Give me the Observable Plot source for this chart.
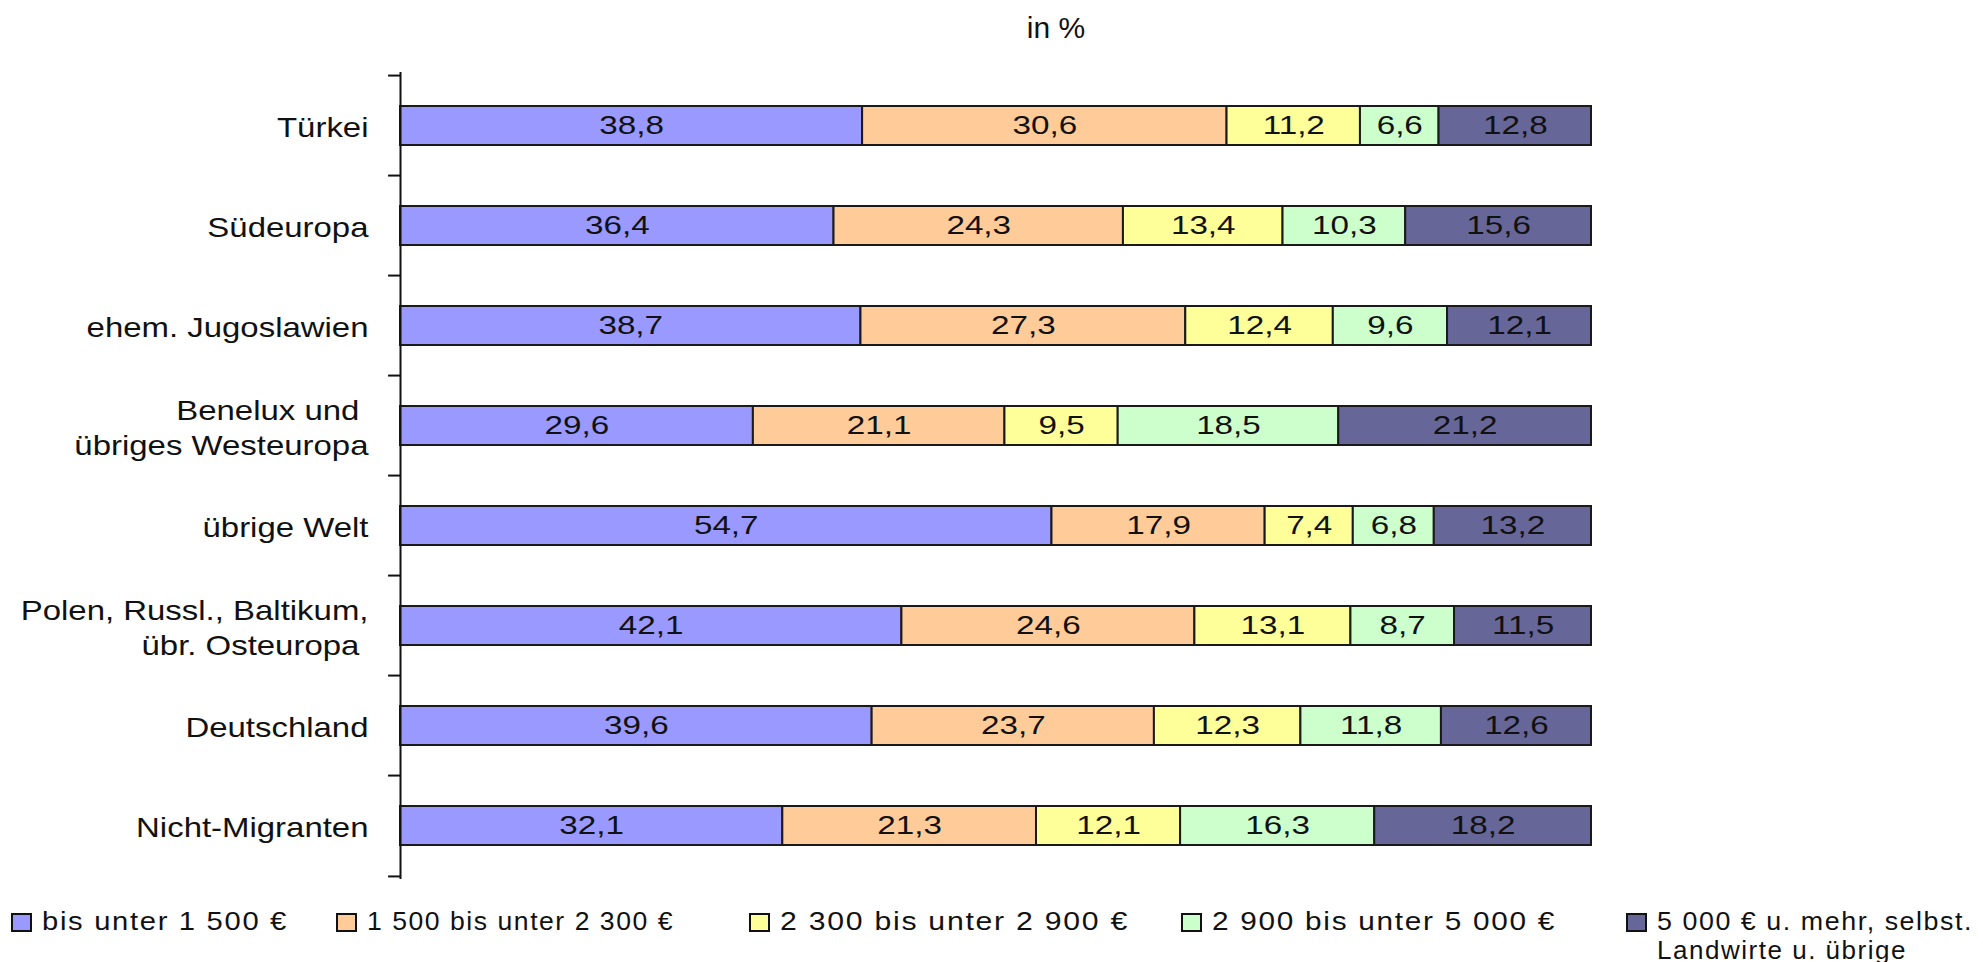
<!DOCTYPE html>
<html>
<head>
<meta charset="utf-8">
<script src="https://cdn.jsdelivr.net/npm/d3@7"></script>
<script src="https://cdn.jsdelivr.net/npm/@observablehq/plot@0.6"></script>
<style>
  html, body { margin: 0; padding: 0; background: #fff; }
  body { width: 1983px; height: 962px; position: relative; overflow: hidden; font-family: "Liberation Sans", Arial, sans-serif; color: #111; }
  #title { position: absolute; left: 0; width: 2112px; top: 11px; text-align: center; font-size: 30px; }
  #chart { position: absolute; left: 0; top: 50px; }
  #legend { position: absolute; left: 0; top: 0; }
  .item { position: absolute; font-size: 26px; letter-spacing: 1.5px; line-height: 30px; white-space: nowrap; transform-origin: left center; }
  .sw { position: absolute; width: 17px; height: 15px; border: 2px solid #111; }
</style>
</head>
<body>
<div id="title">in %</div>
<div id="chart"></div>
<div id="legend"></div>
<script>
const categories = [
  "Türkei",
  "Südeuropa",
  "ehem. Jugoslawien",
  "Benelux und\u00a0\nübriges Westeuropa",
  "übrige Welt",
  "Polen, Russl., Baltikum,\nübr. Osteuropa\u00a0",
  "Deutschland",
  "Nicht-Migranten"
];
const series = [
  "bis unter 1 500 €",
  "1 500 bis unter 2 300 €",
  "2 300 bis unter 2 900 €",
  "2 900 bis unter 5 000 €",
  "5 000 € u. mehr, selbst.\nLandwirte u. übrige"
];
const colors = ["#9999FF", "#FFCC99", "#FFFF99", "#CCFFCC", "#666699"];

const bisUnter1500   = [38.8, 36.4, 38.7, 29.6, 54.7, 42.1, 39.6, 32.1];
const von1500bis2300 = [30.6, 24.3, 27.3, 21.1, 17.9, 24.6, 23.7, 21.3];
const von2300bis2900 = [11.2, 13.4, 12.4,  9.5,  7.4, 13.1, 12.3, 12.1];
const von2900bis5000 = [ 6.6, 10.3,  9.6, 18.5,  6.8,  8.7, 11.8, 16.3];
const ab5000         = [12.8, 15.6, 12.1, 21.2, 13.2, 11.5, 12.6, 18.2];
const values = [bisUnter1500, von1500bis2300, von2300bis2900, von2900bis5000, ab5000];

const data = categories.flatMap((c, i) => series.map((s, j) => ({cat: c, series: s, value: values[j][i]})));
const fmt = v => v.toFixed(1).replace(".", ",");

const W = 1983, H = 845, mT = 22, mB = 16, mL = 400, mR = 392;
const step = (H - mT - mB) / categories.length;

const chart = Plot.plot({
  width: W, height: H,
  marginLeft: mL, marginRight: mR, marginTop: mT, marginBottom: mB,
  x: {domain: [0, 1], axis: null},
  y: {domain: categories, paddingInner: 0.61, paddingOuter: 0.305, label: null},
  color: {domain: series, range: colors},
  style: {fontFamily: "'Liberation Sans', Arial, sans-serif", background: "white", color: "#111"},
  marks: [
    Plot.barX(data, Plot.stackX({x: "value", y: "cat", fill: "series", offset: "normalize", stroke: "#1a1a1a", strokeWidth: 2})),
    Plot.text(data, Plot.stackX({x: "value", y: "cat", z: "series", offset: "normalize", text: d => fmt(d.value), fontSize: 25, fill: "#111"})),
    Plot.ruleX([0], {stroke: "#111", strokeWidth: 2}),
    Plot.ruleY(categories, {y: d => d, x1: -0.01, x2: 0, dy: -step / 2, stroke: "#111", strokeWidth: 2}),
    Plot.ruleY(categories.slice(-1), {y: d => d, x1: -0.01, x2: 0, dy: step / 2, stroke: "#111", strokeWidth: 2}),
    Plot.axisY({tickSize: 0, tickPadding: 32, fontSize: 27, lineHeight: 1.3, fill: "#111", label: null})
  ]
});
document.getElementById("chart").appendChild(chart);

// widen glyphs horizontally around each text's anchor
function squeeze(t, s) {
  const tr = t.getAttribute("transform");
  if (tr && tr.includes("translate")) {
    t.setAttribute("transform", tr + ` scale(${s},1)`);
  } else {
    const x = +t.getAttribute("x") || 0, y = +t.getAttribute("y") || 0;
    t.setAttribute("transform", `translate(${x},${y}) scale(${s},1) translate(${-x},${-y})`);
  }
}
chart.querySelectorAll('g[aria-label="text"] text').forEach(t => squeeze(t, 1.33));
chart.querySelectorAll('g[aria-label="y-axis tick label"] text').forEach(t => squeeze(t, 1.22));

// legend
const swatchX = [11, 336, 749, 1181, 1626];
const textRight = [[288], [674], [1129], [1556], [1973, 1907]];
const legend = document.getElementById("legend");
series.forEach((s, i) => {
  const sw = document.createElement("div");
  sw.className = "sw";
  sw.style.left = swatchX[i] + "px";
  sw.style.top = "913px";
  sw.style.background = colors[i];
  legend.appendChild(sw);
  const left = swatchX[i] + 31;
  s.split("\n").forEach((ln, k) => {
    const t = document.createElement("div");
    t.className = "item";
    t.textContent = ln;
    t.style.left = left + "px";
    t.style.top = (906 + k * 29) + "px";
    legend.appendChild(t);
    const w = t.getBoundingClientRect().width;
    const target = textRight[i][k] - left;
    t.style.transform = `scaleX(${target / w})`;
  });
});
</script>
</body>
</html>
